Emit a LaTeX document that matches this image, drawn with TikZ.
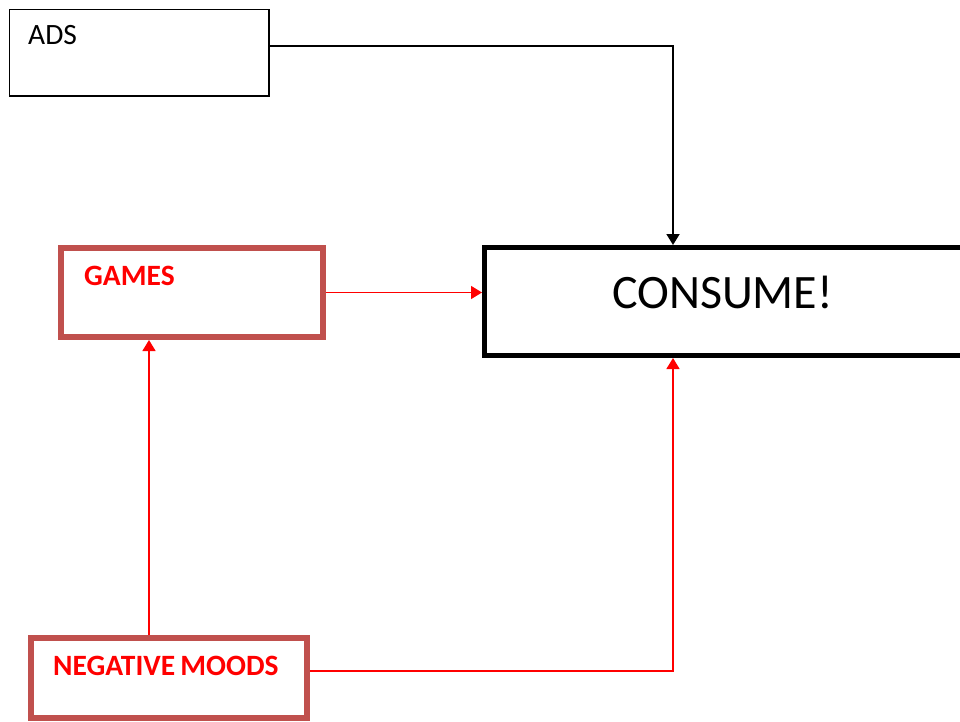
\documentclass[tikz,border=0pt]{standalone}
\usepackage{fontspec}
\setmainfont{Carlito}
\usetikzlibrary{arrows.meta}
\definecolor{boxred}{RGB}{192,80,77}
\definecolor{linered}{RGB}{255,0,0}
\tikzset{
  plainbox/.style={draw=black, line width=1.5pt, fill=white, inner sep=0pt},
  redbox/.style={draw=boxred, line width=6pt, fill=white, inner sep=0pt},
  bigbox/.style={draw=black, line width=5pt, fill=white, inner sep=0pt},
  redlabel/.style={text=linered, font=\bfseries\fontsize{29.5}{32}\selectfont, inner sep=0pt},
  blacklabel/.style={text=black, font=\fontsize{29.5}{32}\selectfont, inner sep=0pt},
  biglabel/.style={text=black, font=\fontsize{48}{54}\selectfont, inner sep=0pt},
  blackflow/.style={draw=black, line width=1.8pt, -{Triangle[width=13pt,length=11pt]}},
  redflow/.style={draw=linered, line width=1.5pt, -{Triangle[width=13pt,length=11pt]}}
}
\begin{document}
\begin{tikzpicture}[x=1pt, y=-1pt]
  \useasboundingbox (0,0) rectangle (960,722);
  \clip (0,0) rectangle (960,722);

  % boxes
  \node[plainbox, minimum width=259.5pt, minimum height=86.5pt] (ads) at (139.25,52.75) {};
  \node[redbox, minimum width=262pt, minimum height=89pt] (games) at (192,292.5) {};
  \node[redbox, minimum width=276pt, minimum height=80pt] (moods) at (169,678) {};
  \node[bigbox, minimum width=520pt, minimum height=108pt] (consume) at (744.5,301.5) {};

  % box texts
  \node[blacklabel, anchor=base west] (adstext) at (28,45) {ADS};
  \node[redlabel, anchor=base west] (gamestext) at (84,285) {GAMES};
  \node[redlabel, anchor=base west] (moodstext) at (53,675) {NEGATIVE\hspace{-1.5pt} MOODS};
  \node[biglabel, anchor=base] (consumetext) at (722.5,308) {CONSUME!};

  % connectors
  \draw[blackflow] (ads.east |- 0,46) -| (consume.north -| 673,0);
  \draw[redflow] (games.east) -- (games.east -| consume.west);
  \draw[redflow] (moods.north -| 149,0) -- (games.south -| 149,0);
  \draw[redflow] (moods.east |- 0,671) -| (consume.south -| 673,0);
\end{tikzpicture}
\end{document}
